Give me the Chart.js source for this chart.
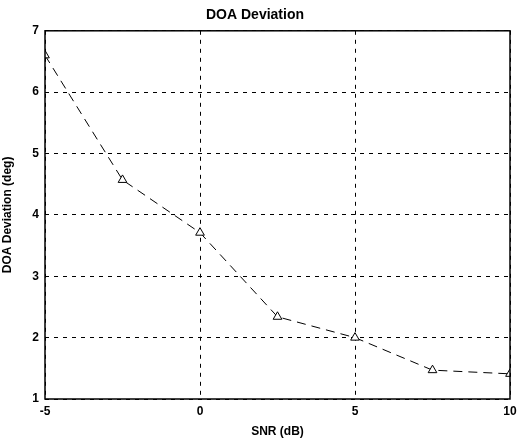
<!DOCTYPE html>
<html>
<head>
<meta charset="utf-8">
<script src="https://cdn.jsdelivr.net/npm/chart.js@4"></script>
<style>
  html, body { margin: 0; padding: 0; background: #fff; }
  #wrap { width: 522px; height: 439px; position: relative; }
</style>
</head>
<body>
<div id="wrap"><canvas id="grafica"></canvas></div>
<script>
// datos
const snrDb = [-5, -2.5, 0, 2.5, 5, 7.5, 10];
const doaDeviation = [6.6, 4.57, 3.71, 2.34, 2.0, 1.47, 1.41];
const xTicks = [-5, 0, 5, 10];
const yTicks = [1, 2, 3, 4, 5, 6, 7];

const FONT = 'Liberation Sans, Arial, sans-serif';

// marco completo alrededor del area de grafico
const marco = {
    id: 'marco',
    afterDraw(chart) {
        const { ctx, chartArea: a } = chart;
        ctx.save();
        ctx.strokeStyle = '#000';
        ctx.lineWidth = 1.5;
        ctx.setLineDash([]);
        ctx.strokeRect(a.left, a.top, a.right - a.left, a.bottom - a.top);
        ctx.restore();
    }
};

const ctx = document.getElementById('grafica').getContext('2d');
new Chart(ctx, {
    type: 'line',
    data: {
        datasets: [{
            label: 'DOA Deviation',
            data: snrDb.map((x, i) => ({ x: x, y: doaDeviation[i] })),
            borderColor: '#000',
            borderWidth: 1,
            borderDash: [9, 6],
            fill: false,
            tension: 0,
            pointStyle: 'triangle',
            pointRadius: 5,
            pointBorderColor: '#000',
            pointBackgroundColor: '#fff',
            pointBorderWidth: 1
        }]
    },
    options: {
        responsive: true,
        maintainAspectRatio: false,
        animation: false,
        layout: { padding: { left: 0, right: 12, top: 0, bottom: 0 } },
        plugins: {
            legend: { display: false },
            tooltip: { enabled: false },
            title: {
                display: true,
                text: 'DOA Deviation',
                color: '#000',
                font: { family: FONT, size: 14, weight: 'bold' },
                padding: { top: 7, bottom: 7 }
            }
        },
        scales: {
            x: {
                type: 'linear',
                min: -5,
                max: 10,
                afterBuildTicks: (axis) => { axis.ticks = xTicks.map(v => ({ value: v })); },
                afterFit: (axis) => { axis.height = 40; },
                border: { display: false, dash: [4, 5] },
                grid: {
                    color: '#000',
                    lineWidth: 1,
                    drawTicks: false
                },
                ticks: {
                    color: '#000',
                    padding: 5,
                    maxRotation: 0,
                    font: { family: FONT, size: 12, weight: 'bold' }
                },
                title: {
                    display: true,
                    text: 'SNR (dB)',
                    color: '#000',
                    padding: { top: 2, bottom: 0 },
                    font: { family: FONT, size: 12, weight: 'bold' }
                }
            },
            y: {
                type: 'linear',
                min: 1,
                max: 7,
                afterBuildTicks: (axis) => { axis.ticks = yTicks.map(v => ({ value: v })); },
                afterFit: (axis) => { axis.width = 45; },
                border: { display: false, dash: [4, 5] },
                grid: {
                    color: '#000',
                    lineWidth: 1,
                    drawTicks: false
                },
                ticks: {
                    color: '#000',
                    padding: 6,
                    font: { family: FONT, size: 12, weight: 'bold' }
                },
                title: {
                    display: true,
                    text: 'DOA Deviation (deg)',
                    color: '#000',
                    padding: { top: 0, bottom: 2 },
                    font: { family: FONT, size: 12, weight: 'bold' }
                }
            }
        }
    },
    plugins: [marco]
});
</script>
</body>
</html>
